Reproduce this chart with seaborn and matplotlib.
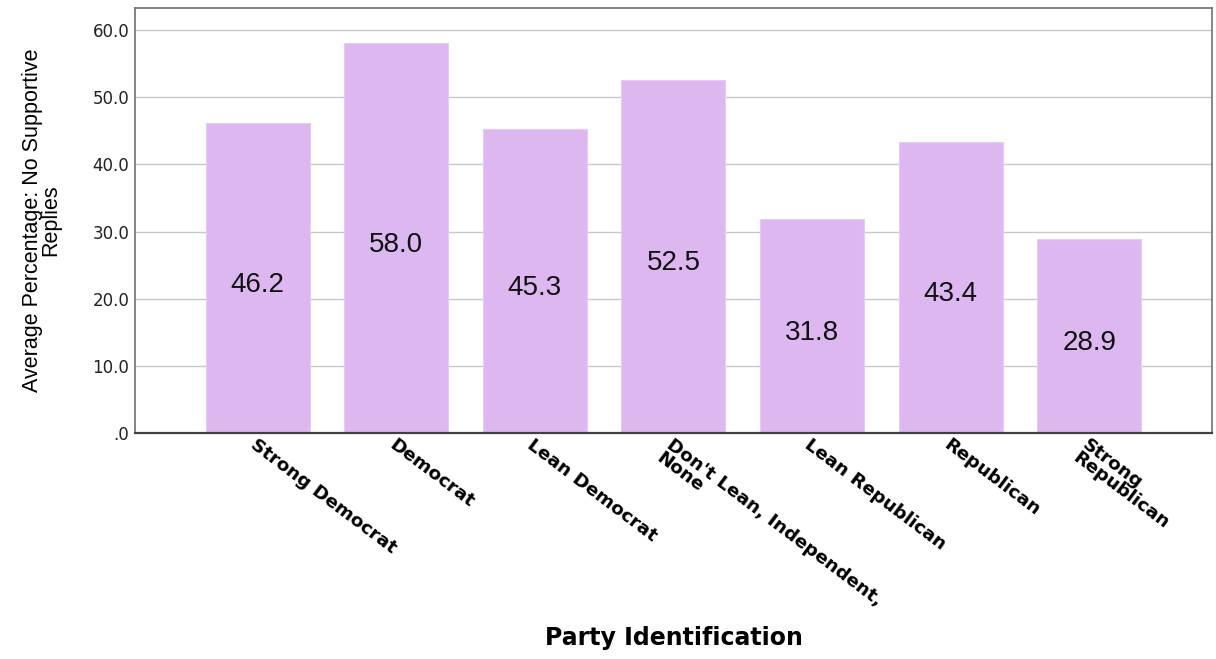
import matplotlib
matplotlib.use("Agg")
import matplotlib.pyplot as plt
import seaborn as sns
import pandas as pd

parties = [
    "Strong Democrat",
    "Democrat",
    "Lean Democrat",
    "Don't Lean, Independent,\nNone",
    "Lean Republican",
    "Republican",
    "Strong\nRepublican",
]
pct_no_support = [46.2, 58.0, 45.3, 52.5, 31.8, 43.4, 28.9]
y_ticks = [0, 10, 20, 30, 40, 50, 60]
y_tick_labels = [".0", "10.0", "20.0", "30.0", "40.0", "50.0", "60.0"]

df = pd.DataFrame({"party": parties, "pct": pct_no_support})

sns.set_theme(style="white")
plt.rcParams["font.family"] = ["Liberation Sans", "DejaVu Sans"]
plt.rcParams["text.color"] = "black"

fig = plt.figure(figsize=(12.16, 6.59), dpi=100)
ax = fig.add_axes([0.111, 0.343, 0.8857, 0.645])

sns.barplot(data=df, x="party", y="pct", color="#DDB8F0", saturation=1,
            width=0.75, edgecolor="#E6CCF4", linewidth=0.8, ax=ax, zorder=2)

ax.set_ylim(0, 63.3)
ax.set_xlim(-0.884, 6.884)
ax.set_yticks(y_ticks)
ax.set_yticklabels(y_tick_labels, fontsize=12, color="#222222",
                   family="DejaVu Sans")
ax.yaxis.grid(True, color="#C8C8C8", linewidth=1.0, zorder=0)
ax.set_axisbelow(True)
ax.tick_params(axis="y", length=0, pad=4)
ax.tick_params(axis="x", length=0, pad=2)

for s in ["left", "top", "right"]:
    ax.spines[s].set_color("#707070")
    ax.spines[s].set_linewidth(1.2)
ax.spines["bottom"].set_color("#404040")
ax.spines["bottom"].set_linewidth(1.6)

ax.set_xticks(range(len(parties)))
ax.set_xticklabels(parties, rotation=-37, ha="left", va="top",
                   rotation_mode="anchor", fontsize=13.3, fontweight="bold",
                   family="DejaVu Sans", color="black", linespacing=0.85)

# value labels, centred at about half bar height
for i, v in enumerate(pct_no_support):
    ax.text(i, v / 2 - 1.0, f"{v:.1f}", ha="center", va="center",
            fontsize=20, color="#111111")

ax.set_xlabel("Party Identification", fontsize=17, fontweight="bold",
              family="DejaVu Sans", color="black", labelpad=0)
ax.xaxis.set_label_coords(0.5, -0.455)
ax.set_ylabel("Average Percentage: No Supportive\nReplies", fontsize=15.5,
              linespacing=0.85, color="black")
ax.yaxis.set_label_coords(-0.068, 0.5)

fig.savefig("out.png", dpi=100)
